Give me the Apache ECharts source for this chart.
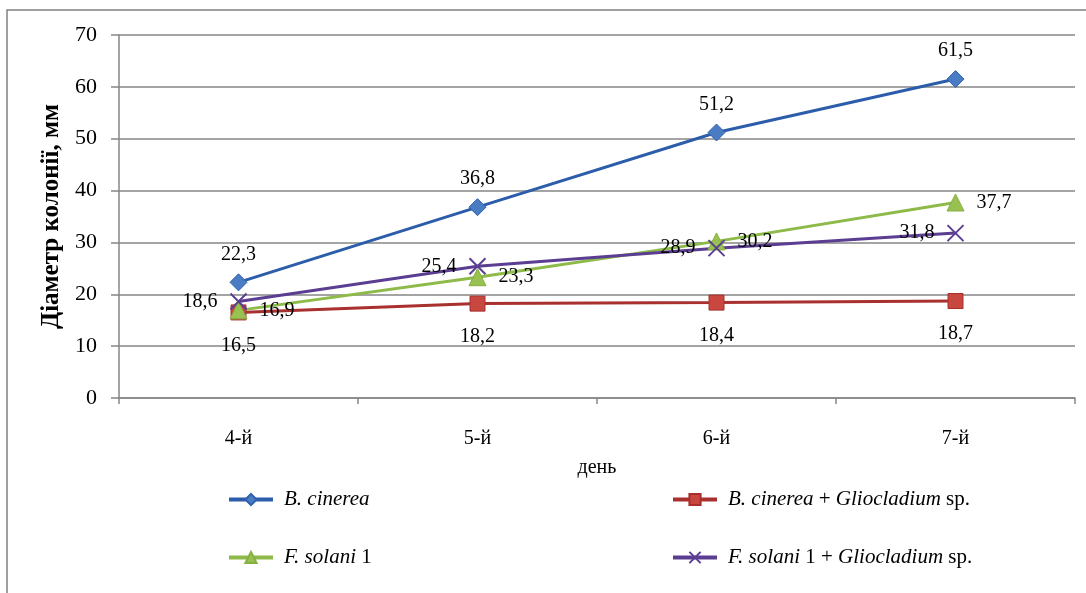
<!DOCTYPE html>
<html>
<head>
<meta charset="utf-8">
<script src="https://cdn.jsdelivr.net/npm/echarts@6/dist/echarts.min.js"></script>
<style>html,body{margin:0;padding:0;background:#fff;}#c{width:1086px;height:593px;}</style>
</head>
<body>
<div id="c"></div>
<script>
const categories = ['4-й', '5-й', '6-й', '7-й'];
const seriesNames = ['B. cinerea', 'B. cinerea + Gliocladium sp.', 'F. solani 1', 'F. solani 1 + Gliocladium sp.'];
const bCinerea = [22.3, 36.8, 51.2, 61.5];
const bCinereaGlio = [16.5, 18.2, 18.4, 18.7];
const fSolani = [16.9, 23.3, 30.2, 37.7];
const fSolaniGlio = [18.6, 25.4, 28.9, 31.8];
const yTicks = { min: 0, max: 70, interval: 10 };
const yAxisTitle = 'Діаметр колонії, мм';
const xAxisTitle = 'день';

const FONT = '"Liberation Serif", "Times New Roman", serif';
const fmt = p => String(p.value).replace('.', ',');
const labelBase = { show: true, fontFamily: FONT, fontSize: 20, color: '#000', formatter: fmt };
const xPath = 'path://M0,0 L10,10 M10,0 L0,10';

function legendFor(name, left, top) {
  return {
    data: [name], left: left, top: top, itemWidth: 44, itemHeight: 14,
    lineStyle: { width: 4 },
    textStyle: { fontFamily: FONT, fontSize: 21, color: '#000', padding: [0, 0, 0, 6],
      rich: { i: { fontFamily: FONT, fontSize: 21, fontStyle: 'italic', color: '#000' } } },
    formatter: n => {
      if (n === 'B. cinerea') return '{i|B. cinerea}';
      if (n === 'B. cinerea + Gliocladium sp.') return '{i|B. cinerea} + {i|Gliocladium} sp.';
      if (n === 'F. solani 1') return '{i|F. solani} 1';
      return '{i|F. solani} 1 + {i|Gliocladium} sp.';
    }
  };
}

const chart = echarts.init(document.getElementById('c'), null, { renderer: 'canvas' });
chart.setOption({
  backgroundColor: '#fff',
  animation: false,
  graphic: [{
    type: 'rect', shape: { x: 7, y: 10, width: 1100, height: 600 },
    style: { fill: 'none', stroke: '#808080', lineWidth: 1.5 }, silent: true, z: -1
  }],
  grid: { left: 119, right: 11, top: 35, bottom: 195 },
  legend: [
    legendFor(seriesNames[0], 222, 484),
    legendFor(seriesNames[1], 666, 484),
    legendFor(seriesNames[2], 222, 542),
    legendFor(seriesNames[3], 666, 542)
  ],
  xAxis: {
    type: 'category', data: categories, boundaryGap: true,
    axisLine: { lineStyle: { color: '#868686', width: 1.5 } },
    axisTick: { show: true, length: 6, lineStyle: { color: '#868686', width: 1.5 } },
    axisLabel: { fontFamily: FONT, fontSize: 20, color: '#000', margin: 31 },
    name: xAxisTitle, nameLocation: 'middle', nameGap: 60,
    nameTextStyle: { fontFamily: FONT, fontSize: 20, color: '#000' }
  },
  yAxis: {
    type: 'value', min: yTicks.min, max: yTicks.max, interval: yTicks.interval,
    axisLine: { show: true, lineStyle: { color: '#868686', width: 1.5 } },
    axisTick: { show: true, length: 8, lineStyle: { color: '#868686', width: 1.5 } },
    splitLine: { lineStyle: { color: '#868686', width: 1.5 } },
    axisLabel: { fontFamily: FONT, fontSize: 22, color: '#000', margin: 22 },
    name: yAxisTitle, nameLocation: 'middle', nameGap: 50,
    nameTextStyle: { fontFamily: FONT, fontSize: 25, fontWeight: 'bold', color: '#000' }
  },
  series: [
    { name: seriesNames[0], type: 'line', data: bCinerea, symbol: 'diamond', symbolSize: 17,
      lineStyle: { color: '#2C5DAA', width: 3 },
      itemStyle: { color: '#4A7CC4', borderColor: '#2F62AE', borderWidth: 1 },
      label: Object.assign({}, labelBase, { position: 'top', distance: 9 }) },
    { name: seriesNames[1], type: 'line', data: bCinereaGlio, symbol: 'rect', symbolSize: 15,
      lineStyle: { color: '#A8302E', width: 3 },
      itemStyle: { color: '#C8473F', borderColor: '#A8302E', borderWidth: 1 },
      label: Object.assign({}, labelBase, { position: 'bottom', distance: 15 }) },
    { name: seriesNames[2], type: 'line', data: fSolani, symbol: 'triangle', symbolSize: 17,
      lineStyle: { color: '#8DBA48', width: 3 },
      itemStyle: { color: '#98C152', borderColor: '#86B03F', borderWidth: 1 },
      label: Object.assign({}, labelBase, { position: 'right', distance: 12 }) },
    { name: seriesNames[3], type: 'line', data: fSolaniGlio, symbol: xPath, symbolSize: 16,
      lineStyle: { color: '#5B3E92', width: 3 },
      itemStyle: { color: '#5B3E92', borderColor: '#5B3E92', borderWidth: 2 },
      label: Object.assign({}, labelBase, { position: 'left', distance: 12 }) }
  ]
});
</script>
</body>
</html>
